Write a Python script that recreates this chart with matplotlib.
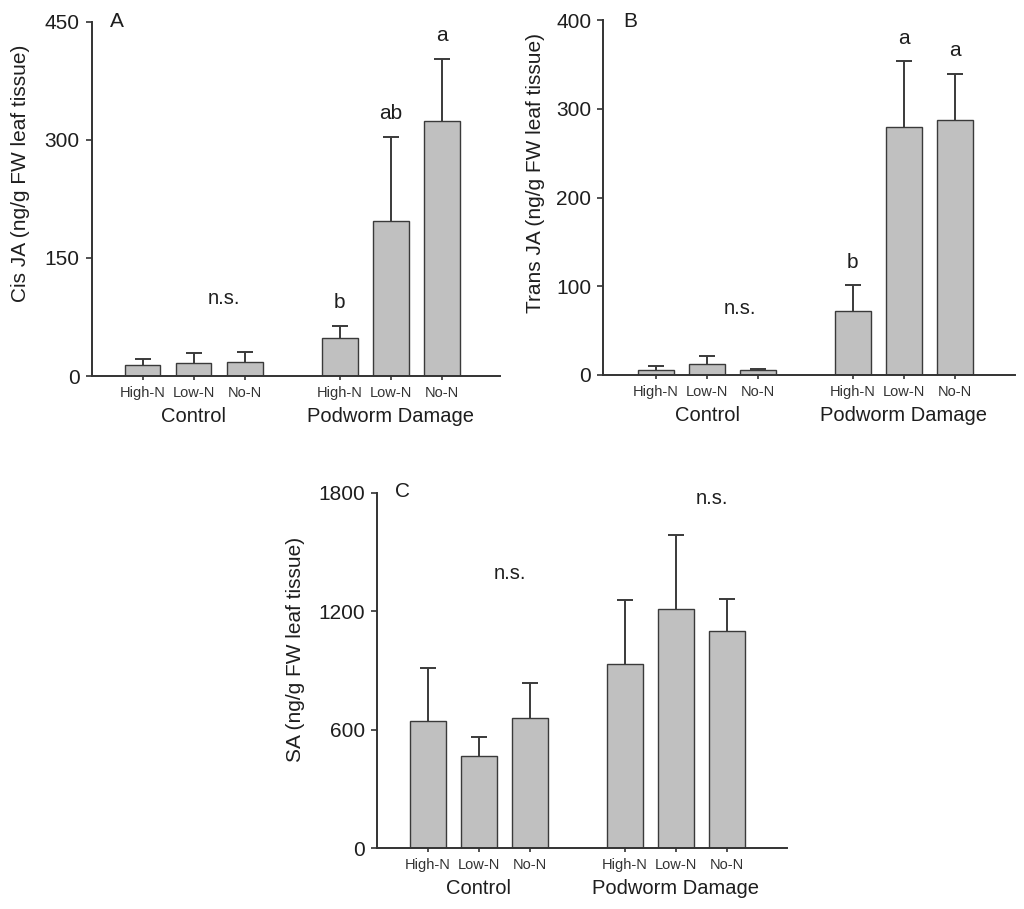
import matplotlib
matplotlib.use('Agg')
import matplotlib.pyplot as plt

plt.rcParams['font.family'] = ['Liberation Sans', 'DejaVu Sans']

# data
levels = ['High-N', 'Low-N', 'No-N', 'High-N', 'Low-N', 'No-N']
groups = ['Control', 'Podworm Damage']
pos = [0, 1, 2, 3.86, 4.86, 5.86]

cis_ja = [14, 17, 18, 48, 197, 324]
cis_ja_err = [7.5, 12, 13, 16, 107, 78]
cis_letters = ['', '', '', 'b', 'ab', 'a']

trans_ja = [6, 12.5, 5.5, 72.5, 279, 287]
trans_ja_err = [4, 9, 1.5, 28.5, 75, 52]
trans_letters = ['', '', '', 'b', 'a', 'a']

sa = [645, 469, 657, 931, 1214, 1102]
sa_err = [270, 92, 182, 325, 375, 162]

bar_fill = '#c0c0c0'
edge = '#3a3a3a'
txt = '#1e1e1e'

fig = plt.figure(figsize=(10.24, 9.09), dpi=100)
W, H = 1024, 909


def make_ax(l, r, t, b):
    return fig.add_axes([l / W, (H - b) / H, (r - l) / W, (b - t) / H])


def draw(ax, vals, errs, ymax, yticks, ylabel, letter, letter_y, labx, laby, xlim):
    tops = [v + e for v, e in zip(vals, errs)]
    # upper error bars only, behind the bars
    ax.vlines(pos, vals, tops, color=edge, linewidth=1.4, zorder=1)
    ax.plot(pos, tops, linestyle='none', marker='_', markersize=11, markeredgewidth=1.4,
            color=edge, zorder=1)
    ax.bar(pos, vals, width=0.7, color=bar_fill, edgecolor=edge, linewidth=1.0, zorder=2)
    ax.set_xlim(*xlim)
    ax.set_ylim(0, ymax)
    ax.set_yticks(yticks)
    ax.set_xticks(pos)
    ax.set_xticklabels(levels, fontsize=10.5, color=txt)
    for s in ['top', 'right']:
        ax.spines[s].set_visible(False)
    for s in ['left', 'bottom']:
        ax.spines[s].set_linewidth(1.4)
        ax.spines[s].set_color('#333333')
    ax.tick_params(axis='y', length=4.5, width=1.2, pad=4, labelsize=15, colors='#333333',
                   labelcolor=txt)
    ax.tick_params(axis='x', length=3, width=1.2, pad=4, colors='#333333')
    ax.set_ylabel(ylabel, fontsize=15, color=txt)
    ax.yaxis.set_label_coords(labx, laby)
    ax.text(-0.5, letter_y, letter, fontsize=15, ha='center', va='baseline', color=txt)
    for x, g in zip([1, 4.86], groups):
        ax.annotate(g, xy=(x, 0), xycoords=('data', 'axes fraction'), xytext=(0, -29),
                    textcoords='offset points', ha='center', va='center', fontsize=14.5,
                    color=txt, annotation_clip=False)


axA = make_ax(91.5, 500, 21.5, 376)
draw(axA, cis_ja, cis_ja_err, 450, [0, 150, 300, 450], 'Cis JA (ng/g FW leaf tissue)',
     'A', 443, -0.15, 0.573, (-1.0, 7.0))
axA.text(1.6, 92, 'n.s.', fontsize=14.5, ha='center', va='baseline', color=txt)
for x, y, t in zip(pos, [86, 86, 86, 86, 326, 425], cis_letters):
    if t:
        axA.text(x, y, t, fontsize=15, ha='center', va='baseline', color=txt)

axB = make_ax(603, 1015, 20, 375)
draw(axB, trans_ja, trans_ja_err, 400, [0, 100, 200, 300, 400], 'Trans JA (ng/g FW leaf tissue)',
     'B', 392, -0.14, 0.568, (-1.04, 7.04))
axB.text(1.65, 69, 'n.s.', fontsize=14.5, ha='center', va='baseline', color=txt)
for x, y, t in zip(pos, [0, 0, 0, 120, 373, 359], trans_letters):
    if t:
        axB.text(x, y, t, fontsize=15, ha='center', va='baseline', color=txt)

axC = make_ax(377, 787, 493, 848)
draw(axC, sa, sa_err, 1800, [0, 600, 1200, 1800], 'SA (ng/g FW leaf tissue)',
     'C', 1778, -0.175, 0.558, (-1.0, 7.04))
axC.text(1.6, 1362, 'n.s.', fontsize=14.5, ha='center', va='baseline', color=txt)
axC.text(5.56, 1746, 'n.s.', fontsize=14.5, ha='center', va='baseline', color=txt)

fig.savefig('out.png', dpi=100, facecolor='white')
